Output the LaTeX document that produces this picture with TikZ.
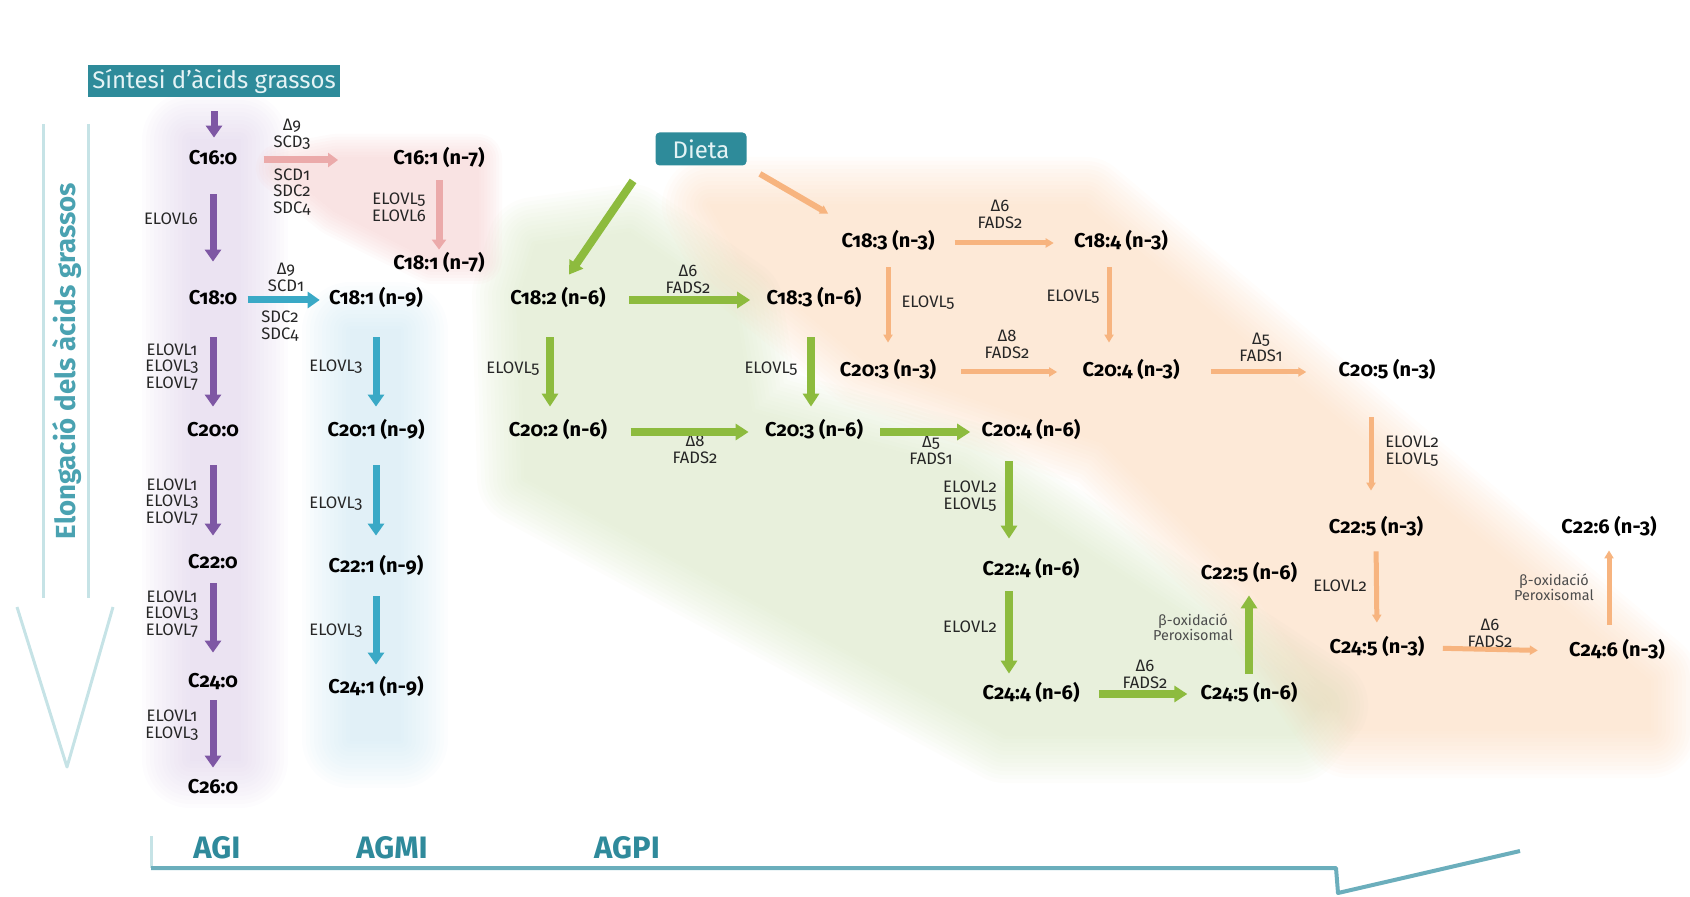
\documentclass[tikz,border=0pt]{standalone}
\usepackage{fontspec}
\setmainfont{Fira Sans}[Numbers=OldStyle]
\usetikzlibrary{arrows.meta,calc}

\definecolor{boxteal}{HTML}{2E8B9A}
\definecolor{boxtext}{HTML}{E4F3F5}
\definecolor{labteal}{HTML}{2F8A9B}
\definecolor{elongteal}{HTML}{4AA2B1}
\definecolor{outlinelt}{HTML}{C6E3E6}
\definecolor{outlinedk}{HTML}{6BAEBC}
\definecolor{purplea}{HTML}{7E57A4}
\definecolor{bluea}{HTML}{3AA9C6}
\definecolor{pinka}{HTML}{EBAAAA}
\definecolor{greena}{HTML}{8DBB3E}
\definecolor{orangea}{HTML}{F7B47F}
\definecolor{purplebg}{HTML}{D9CAE6}
\definecolor{bluebg}{HTML}{C5E3F0}
\definecolor{pinkbg}{HTML}{F4C8C8}
\definecolor{greenbg}{HTML}{D2E3BB}
\definecolor{orangebg}{HTML}{FBD4B2}

\begin{document}
\begin{tikzpicture}[x=0.5pt,y=-0.5pt,
		fa/.style={font=\bfseries\fontsize{10}{10}\selectfont, text height=7pt, text depth=2pt, inner sep=2pt},
		enz/.style={font=\fontsize{8.3}{8.4}\selectfont, align=center, inner sep=0pt, text=black!85},
		oxid/.style={font=\fontsize{7.2}{7.6}\selectfont, align=center, inner sep=0pt, text=black!70},
		tealbox/.style={fill=boxteal, text=boxtext, font=\fontsize{12}{12}\selectfont, inner sep=0pt},
		group/.style={text=labteal, font=\bfseries\fontsize{15.5}{15.5}\selectfont},
		purplearr/.style={draw=purplea, line width=3.5pt, -{Triangle[width=8pt,length=6pt]}},
		bluearr/.style={draw=bluea, line width=3.5pt, -{Triangle[width=8pt,length=6pt]}},
		pinkarr/.style={draw=pinka, line width=3.5pt, -{Triangle[width=7pt,length=5pt]}},
		greenarr/.style={draw=greena, line width=4pt, -{Triangle[width=8pt,length=6.5pt]}},
		orangearr/.style={draw=orangea, line width=2.5pt, -{Triangle[width=4.5pt,length=4pt]}},
		soft/.style={transparency group, opacity=0.055},
		zone/.style={line join=round, fill=#1, draw=#1}]
	\useasboundingbox (0,0) rectangle (1690,897);
	
	% Background zones (soft edges)
	\foreach \w in {0,4,...,48} {
		\begin{scope}[soft]
			\filldraw[zone=purplebg, line width=\w pt] (190,140) rectangle (240,760);
		\end{scope}
		\begin{scope}[soft]
			\filldraw[zone=bluebg, line width=\w pt] (350,330) rectangle (400,740);
		\end{scope}
		\begin{scope}[soft]
			\filldraw[zone=greenbg, line width=\w pt]
				(535,245) -- (630,232) -- (735,305) -- (752,412) -- (960,468) -- (1320,705)
				-- (1295,735) -- (1005,735) -- (525,478) -- (520,295) -- cycle;
		\end{scope}
		\begin{scope}[soft]
			\filldraw[zone=orangebg, line width=\w pt]
				(710,205) -- (1085,205) -- (1650,680) -- (1650,730) -- (1350,730) -- (1248,585)
				-- (1102,443) -- (866,362) -- (740,260) -- cycle;
		\end{scope}
	}
	\foreach \w in {0,3,...,24} {
		\begin{scope}[soft, opacity=0.08]
			\filldraw[zone=pinkbg, line width=\w pt]
				(280,168) -- (335,158) -- (478,158) -- (478,260) -- (432,260) -- (335,212) -- cycle;
		\end{scope}
	}
	
	% Outline arrows (axes)
	\draw[outlinelt, line width=1.5pt] (43,124) -- (43,598);
	\draw[outlinelt, line width=1.5pt] (88,124) -- (88,598);
	\draw[outlinelt, line width=1.5pt, line join=round] (17,607) -- (67,767) -- (113,607);
	\node[rotate=90, text=elongteal, font=\bfseries\fontsize{13.8}{13.8}\selectfont] (elong) at (67,361) {Elongació dels àcids grassos};
	\draw[outlinelt, line width=1.5pt] (151,836) -- (151,868);
	\draw[outlinedk, line width=2pt, line join=round] (151,868) -- (1336,868) -- (1338,893) -- (1520,851);
	\node[group] (agi) at (217,848) {AGI};
	\node[group] (agmi) at (392,848) {AGMI};
	\node[group] (agpi) at (627,848) {AGPI};
	
	% Sources
	\node[tealbox, minimum width=126pt, minimum height=16pt] (synth) at (214,81) {Síntesi d’àcids grassos};
	\node[tealbox, minimum width=45.5pt, minimum height=16.5pt, rounded corners=2pt] (dieta) at (701,149) {Dieta};
	
	% Saturated (AGI)
	\node[fa] (c160) at (213,160) {C16:0};
	\node[fa] (c180) at (213,300) {C18:0};
	\node[fa] (c200) at (213,432) {C20:0};
	\node[fa] (c220) at (213,563) {C22:0};
	\node[fa] (c240) at (213,682) {C24:0};
	\node[fa] (c260) at (213,788) {C26:0};
	\node[enz] (e1) at (171,219) {ELOVL6};
	\node[enz] (e2) at (172,367) {ELOVL1\\ELOVL3\\ELOVL7};
	\node[enz] (e3) at (172,502) {ELOVL1\\ELOVL3\\ELOVL7};
	\node[enz] (e4) at (172,614) {ELOVL1\\ELOVL3\\ELOVL7};
	\node[enz] (e5) at (172,725) {ELOVL1\\ELOVL3};
	
	% Monounsaturated (AGMI)
	\node[fa] (c161) at (439,160) {C16:1 (n-7)};
	\node[fa] (c181n7) at (439,265) {C18:1 (n-7)};
	\node[fa] (c181n9) at (376,300) {C18:1 (n-9)};
	\node[fa] (c201) at (376,432) {C20:1 (n-9)};
	\node[fa] (c221) at (376,567) {C22:1 (n-9)};
	\node[fa] (c241) at (376,688) {C24:1 (n-9)};
	\node[enz] (d1) at (292,134) {Δ9\\SCD3};
	\node[enz] (d2) at (292,192) {SCD1\\SDC2\\SDC4};
	\node[enz] (d3) at (399,207) {ELOVL5\\ELOVL6};
	\node[enz] (d4) at (286,277) {Δ9\\SCD1};
	\node[enz] (d5) at (280,326) {SDC2\\SDC4};
	\node[enz] (d6) at (336,367) {ELOVL3};
	\node[enz] (d7) at (336,504) {ELOVL3};
	\node[enz] (d8) at (336,631) {ELOVL3};
	
	% Polyunsaturated n-6 (AGPI)
	\node[fa] (c182) at (558,300) {C18:2 (n-6)};
	\node[fa] (c183n6) at (814,300) {C18:3 (n-6)};
	\node[fa] (c202) at (558,432) {C20:2 (n-6)};
	\node[fa] (c203n6) at (814,432) {C20:3 (n-6)};
	\node[fa] (c204n6) at (1031,432) {C20:4 (n-6)};
	\node[fa] (c224) at (1031,570) {C22:4 (n-6)};
	\node[fa] (c244) at (1031,694) {C24:4 (n-6)};
	\node[fa] (c245n6) at (1249,694) {C24:5 (n-6)};
	\node[fa] (c225n6) at (1249,574) {C22:5 (n-6)};
	\node[enz] (g1) at (688,279) {Δ6\\FADS2};
	\node[enz] (g2) at (513,369) {ELOVL5};
	\node[enz] (g3) at (771,369) {ELOVL5};
	\node[enz] (g4) at (695,449) {Δ8\\FADS2};
	\node[enz] (g5) at (931,450) {Δ5\\FADS1};
	\node[enz] (g6) at (970,496) {ELOVL2\\ELOVL5};
	\node[enz] (g7) at (970,627) {ELOVL2};
	\node[enz] (g8) at (1145,674) {Δ6\\FADS2};
	\node[oxid] (g9) at (1193,627) {β-oxidació\\Peroxisomal};
	
	% Polyunsaturated n-3 (AGPI)
	\node[fa] (c183n3) at (888,243) {C18:3 (n-3)};
	\node[fa] (c184) at (1121,243) {C18:4 (n-3)};
	\node[fa] (c203n3) at (888,372) {C20:3 (n-3)};
	\node[fa] (c204n3) at (1131,372) {C20:4 (n-3)};
	\node[fa] (c205) at (1387,372) {C20:5 (n-3)};
	\node[fa] (c225n3) at (1376,528) {C22:5 (n-3)};
	\node[fa] (c245n3) at (1377,648) {C24:5 (n-3)};
	\node[fa] (c246) at (1617,651) {C24:6 (n-3)};
	\node[fa] (c226) at (1609,528) {C22:6 (n-3)};
	\node[enz] (o1) at (1000,214) {Δ6\\FADS2};
	\node[enz] (o2) at (928,303) {ELOVL5};
	\node[enz] (o3) at (1073,297) {ELOVL5};
	\node[enz] (o4) at (1007,344) {Δ8\\FADS2};
	\node[enz] (o5) at (1261,347) {Δ5\\FADS1};
	\node[enz] (o6) at (1412,451) {ELOVL2\\ELOVL5};
	\node[enz] (o7) at (1340,586) {ELOVL2};
	\node[enz] (o8) at (1490,633) {Δ6\\FADS2};
	\node[oxid] (o9) at (1554,587) {β-oxidació\\Peroxisomal};
	
	% Saturated pathway
	\draw[purplearr, shorten <=7pt, shorten >=4.5pt] (synth.south) -- (synth.south |- c160.north);
	\draw[purplearr, shorten <=10.5pt, shorten >=12.5pt] (c160.south) -- (c180.north);
	\draw[purplearr, shorten <=12pt, shorten >=6pt] (c180.south) -- (c200.north);
	\draw[purplearr, shorten <=10pt, shorten >=7pt] (c200.south) -- (c220.north);
	\draw[purplearr, shorten <=3.5pt, shorten >=8pt] (c220.south) -- (c240.north);
	\draw[purplearr, shorten <=2.5pt, shorten >=3.5pt] (c240.south) -- (c260.north);
	
	% Monounsaturated pathway
	\draw[pinkarr, shorten <=11pt, shorten >=25.5pt] (c160.east) -- (c161.west);
	\draw[pinkarr, shorten <=3.5pt, shorten >=1pt] (c161.south) -- (c181n7.north);
	\draw[bluearr, shorten <=3pt, shorten >=2.5pt] (c180.east) -- (c181n9.west);
	\draw[bluearr, shorten <=12pt, shorten >=6pt] (c181n9.south) -- (c201.north);
	\draw[bluearr, shorten <=10pt, shorten >=9pt] (c201.south) -- (c221.north);
	\draw[bluearr, shorten <=8pt, shorten >=5pt] (c221.south) -- (c241.north);
	
	% n-6 pathway
	\draw[greenarr] ($(dieta.south west)+(-22,15)$) -- ($(c182.north)+(11,-12)$);
	\draw[greenarr, shorten <=9.5pt, shorten >=6pt] (c182.east) -- (c183n6.west);
	\draw[greenarr, shorten <=12pt, shorten >=6pt] ([xshift=-4pt]c182.south) -- ([xshift=-4pt]c202.north);
	\draw[greenarr, shorten <=9.5pt, shorten >=6pt] (c202.east) -- (c203n6.west);
	\draw[greenarr, shorten <=12pt, shorten >=6pt] ([xshift=-1.5pt]c183n6.south) -- ([xshift=-1.5pt]c203n6.north);
	\draw[greenarr, shorten <=6.5pt, shorten >=3.5pt] (c203n6.east) -- (c204n6.west);
	\draw[greenarr, shorten <=8pt, shorten >=9pt] ([xshift=-11pt]c204n6.south) -- ([xshift=-11pt]c224.north);
	\draw[greenarr, shorten <=4pt, shorten >=3.5pt] ([xshift=-11pt]c224.south) -- ([xshift=-11pt]c244.north);
	\draw[greenarr, shorten <=7.5pt, shorten >=4.5pt] (c244.east) -- (c245n6.west);
	\draw[greenarr, shorten <=3.5pt, shorten >=4pt] (c245n6.north) -- (c225n6.south);
	
	% n-3 pathway
	\draw[orangearr, line width=3pt] ($(dieta.south east)+(13,8)$) -- ($(c183n3.north west)+(-9,-16)$);
	\draw[orangearr, shorten <=8pt, shorten >=8pt] (c183n3.east) -- (c184.west);
	\draw[orangearr, shorten <=5.5pt, shorten >=8pt] (c183n3.south) -- (c203n3.north);
	\draw[orangearr, shorten <=5.5pt, shorten >=8pt] ([xshift=-6pt]c184.south) -- ([xshift=-6pt]c184.south |- c204n3.north);
	\draw[orangearr, shorten <=10.5pt, shorten >=10.5pt] (c203n3.east) -- (c204n3.west);
	\draw[orangearr, shorten <=13.5pt, shorten >=14pt] (c204n3.east) -- (c205.west);
	\draw[orangearr, shorten <=16pt, shorten >=12pt] ([xshift=-8pt]c205.south) -- ([xshift=-8pt]c205.south |- c225n3.north);
	\draw[orangearr, shorten <=5pt, shorten >=6pt] (c225n3.south) -- (c245n3.north);
	\draw[orangearr, shorten <=7pt, shorten >=13.5pt] (c245n3.east) -- (c246.west);
	\draw[orangearr, shorten <=6.5pt, shorten >=4.5pt] ([xshift=-4pt]c246.north) -- ([xshift=-4pt]c246.north |- c226.south);
	
\end{tikzpicture}
\end{document}
